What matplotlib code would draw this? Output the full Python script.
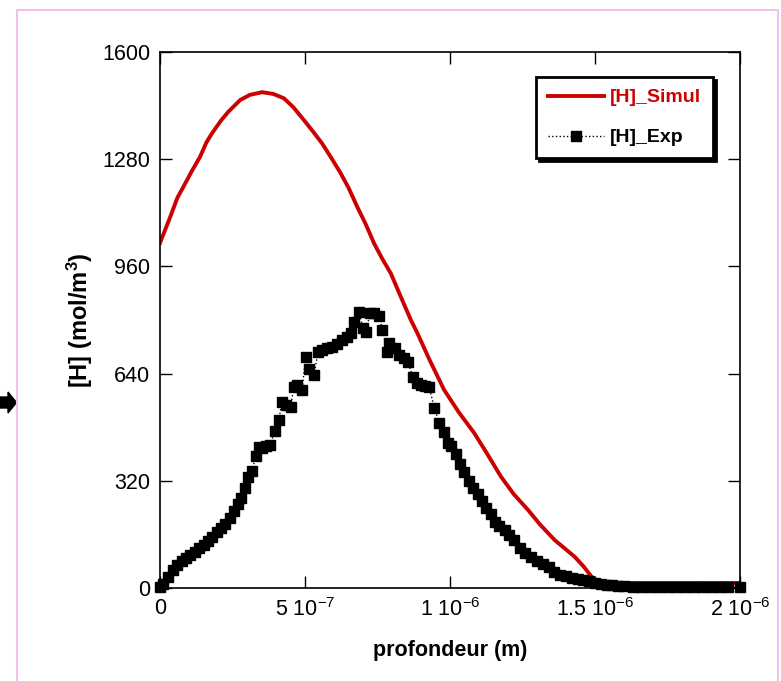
import numpy as np
import matplotlib
matplotlib.use('Agg')
import matplotlib.pyplot as plt
from matplotlib.patches import Polygon
from matplotlib.lines import Line2D

# profondeur en 1e-6 m
simul_x = [0.000, 0.035, 0.060, 0.081, 0.110, 0.138, 0.160, 0.179, 0.210, 0.236,
           0.277, 0.310, 0.352, 0.390, 0.427, 0.460, 0.496, 0.530, 0.559, 0.590,
           0.623, 0.650, 0.680, 0.710, 0.738, 0.765, 0.796, 0.830, 0.865, 0.888,
           0.930, 0.980, 1.030, 1.084, 1.130, 1.176, 1.220, 1.269, 1.310, 1.361,
           1.400, 1.430, 1.460, 1.488, 1.500, 1.550, 2.000]
simul_y = [1030, 1107, 1165, 1198, 1245, 1287, 1330, 1357, 1395, 1422,
           1457, 1472, 1480, 1475, 1462, 1435, 1397, 1360, 1327, 1285,
           1238, 1195, 1138, 1085, 1029, 985, 939, 870, 800, 760,
           680, 591, 525, 462, 398, 332, 280, 233, 190, 143,
           115, 93, 65, 34, 17, 15, 15]

exp_x = [0.000, 0.012, 0.029, 0.045, 0.060, 0.075, 0.090, 0.105, 0.120, 0.135,
         0.150, 0.165, 0.180, 0.195, 0.210, 0.225, 0.240, 0.255, 0.268, 0.280,
         0.294, 0.305, 0.318, 0.330, 0.342, 0.352, 0.365, 0.381, 0.395, 0.410,
         0.420, 0.435, 0.450, 0.462, 0.473, 0.490, 0.502, 0.515, 0.531, 0.545,
         0.559, 0.575, 0.594, 0.610, 0.628, 0.646, 0.660, 0.669, 0.686, 0.700,
         0.709, 0.725, 0.738, 0.755, 0.767, 0.784, 0.790, 0.810, 0.825, 0.842,
         0.855, 0.871, 0.885, 0.900, 0.915, 0.928, 0.946, 0.963, 0.980, 0.992,
         1.005, 1.020, 1.035, 1.050, 1.065, 1.080, 1.095, 1.110, 1.125, 1.140,
         1.155, 1.170, 1.188, 1.205, 1.222, 1.240, 1.260, 1.280, 1.300, 1.320,
         1.340, 1.360, 1.380, 1.400, 1.420, 1.440, 1.460, 1.480, 1.500, 1.520,
         1.540, 1.560, 1.580, 1.600, 1.630, 1.660, 1.690, 1.720, 1.750, 1.780,
         1.810, 1.840, 1.870, 1.900, 1.930, 1.960, 2.000]
exp_y = [3, 12, 34, 55, 70, 80, 90, 100, 108, 118,
         128, 140, 152, 166, 180, 192, 208, 230, 252, 268,
         298, 330, 350, 395, 420, 417, 425, 427, 470, 501,
         556, 546, 541, 600, 606, 591, 690, 655, 636, 705,
         710, 715, 720, 728, 740, 750, 760, 795, 825, 775,
         765, 820, 820, 812, 770, 705, 730, 716, 696, 686,
         676, 631, 612, 606, 603, 601, 537, 492, 467, 432,
         425, 400, 370, 345, 320, 298, 280, 260, 240, 222,
         198, 185, 173, 158, 143, 120, 105, 93, 82, 72,
         62, 48, 40, 35, 31, 27, 24, 20, 16, 13,
         10, 8, 6, 5, 4, 3, 3, 3, 3, 2,
         2, 2, 2, 2, 2, 2, 2]

xticks = [0, 5e-7, 1e-6, 1.5e-6, 2e-6]
xtick_labels = ['0', '5 10$^{-7}$', '1 10$^{-6}$', '1.5 10$^{-6}$', '2 10$^{-6}$']
yticks = [0, 320, 640, 960, 1280, 1600]

plt.rcParams['font.family'] = ['Liberation Sans', 'DejaVu Sans']
plt.rcParams['mathtext.default'] = 'regular'

W, H = 781, 681
fig = plt.figure(figsize=(W / 100, H / 100), dpi=100)
ax = fig.add_axes([160 / W, 1 - 588 / H, 580 / W, 536 / H])

ax.plot(np.array(simul_x) * 1e-6, simul_y, color='#cc0000', lw=2.8, label='[H]_Simul')
ax.plot(np.array(exp_x) * 1e-6, exp_y, color='black', ls=':', lw=1,
        marker='s', ms=7.8, clip_on=False, label='[H]_Exp')

ax.set_xlim(0, 2e-6)
ax.set_ylim(0, 1600)
ax.set_xticks(xticks)
ax.set_xticklabels(xtick_labels)
ax.set_yticks(yticks)
ax.tick_params(which='both', direction='in', top=True, right=True,
               length=8.5, width=1, labelsize=15.5, pad=7)
for s in ax.spines.values():
    s.set_linewidth(1.2)

ax.set_xlabel('profondeur (m)', fontsize=15.5, fontweight='bold', labelpad=14)
ax.set_ylabel('[H] (mol/m$^3$)', fontsize=17, fontweight='bold', labelpad=5)

leg = ax.legend(loc='upper right', bbox_to_anchor=(0.953, 0.953), numpoints=1,
                fancybox=False, edgecolor='black', framealpha=1, borderaxespad=0,
                shadow={'color': 'black', 'alpha': 1},
                prop={'weight': 'bold', 'size': 14},
                handlelength=2.9, handletextpad=0.3, borderpad=0.6, labelspacing=1.15)
leg.get_frame().set_linewidth(2)
for t, c in zip(leg.get_texts(), ['#cc0000', 'black']):
    t.set_color(c)

# cadre rose et flèche à gauche
fig.add_artist(Line2D([17 / W, 17 / W, 778 / W, 778 / W], [0, 1 - 10 / H, 1 - 10 / H, 0],
                      transform=fig.transFigure, color='#f2bfe9', lw=1.5))
arrow = [(0, 397), (8, 397), (8, 392), (16.5, 402.5), (8, 413), (8, 408), (0, 408)]
fig.add_artist(Polygon([(px / W, 1 - py / H) for px, py in arrow], closed=True,
                       transform=fig.transFigure, color='black'))

fig.savefig('out.png', dpi=100)
